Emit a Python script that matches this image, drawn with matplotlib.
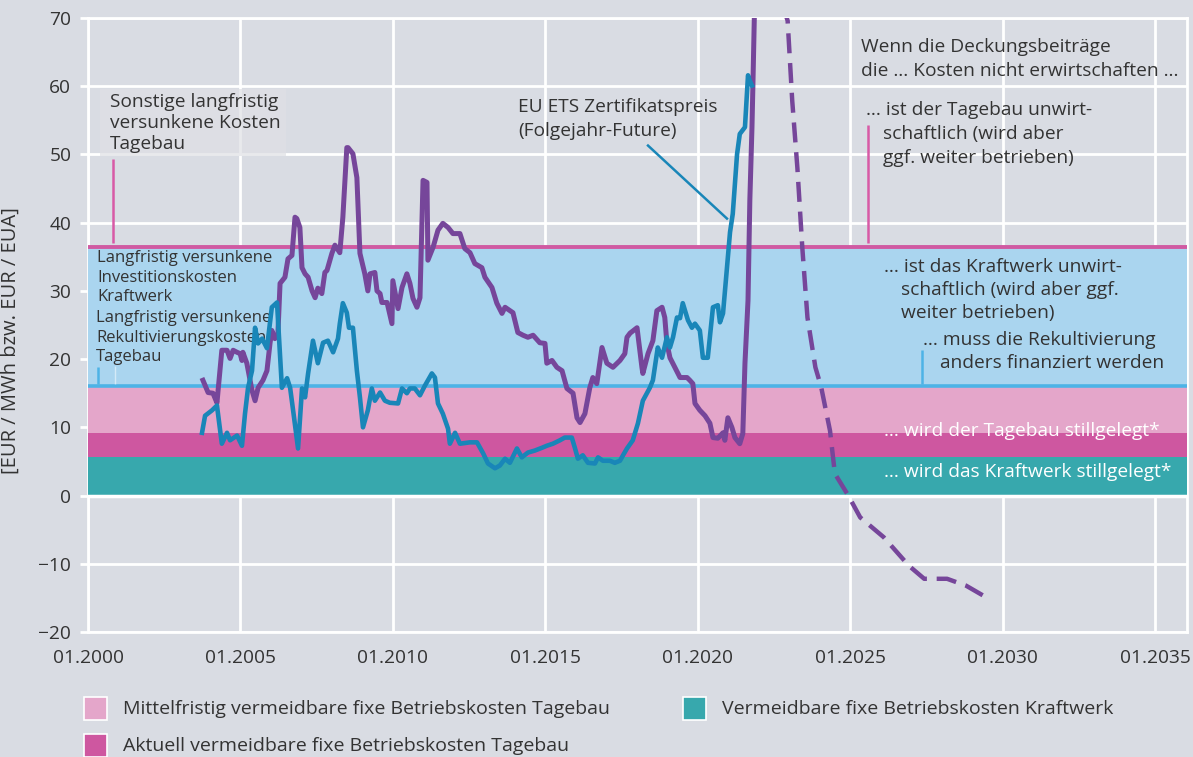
import matplotlib.pyplot as plt
from matplotlib.patches import Rectangle

plt.rcParams['font.family'] = ['Open Sans', 'DejaVu Sans']

# Deckungsbeitrag (historisch), decimal years
margin_year = [2003.77, 2003.94, 2004.10, 2004.23, 2004.39, 2004.56, 2004.66, 2004.76, 2004.89, 2004.99,
               2005.05, 2005.08, 2005.21, 2005.38, 2005.48, 2005.58, 2005.74, 2005.87, 2005.97, 2006.03,
               2006.13, 2006.23, 2006.30, 2006.46, 2006.56, 2006.69, 2006.79, 2006.85, 2006.95, 2007.02,
               2007.12, 2007.22, 2007.35, 2007.45, 2007.54, 2007.67, 2007.77, 2007.84, 2008.00, 2008.10,
               2008.26, 2008.36, 2008.49, 2008.53, 2008.69, 2008.82, 2008.92, 2009.08, 2009.18, 2009.25,
               2009.41, 2009.48, 2009.58, 2009.64, 2009.81, 2009.97, 2010.00, 2010.17, 2010.30, 2010.46,
               2010.56, 2010.66, 2010.79, 2010.89, 2010.99, 2011.12, 2011.15, 2011.32, 2011.48, 2011.64,
               2011.81, 2011.97, 2012.20, 2012.36, 2012.53, 2012.69, 2012.92, 2013.02, 2013.25, 2013.41,
               2013.58, 2013.68, 2013.94, 2014.10, 2014.27, 2014.43, 2014.60, 2014.82, 2014.99, 2015.05,
               2015.22, 2015.38, 2015.55, 2015.71, 2015.91, 2016.04, 2016.14, 2016.30, 2016.46, 2016.56,
               2016.69, 2016.86, 2017.02, 2017.22, 2017.45, 2017.61, 2017.68, 2017.78, 2018.01, 2018.17,
               2018.20, 2018.37, 2018.53, 2018.66, 2018.83, 2018.92, 2018.99, 2019.09, 2019.25, 2019.42,
               2019.65, 2019.74, 2019.84, 2019.91, 2020.07, 2020.24, 2020.40, 2020.50, 2020.66, 2020.83,
               2020.89, 2020.99, 2021.12, 2021.22, 2021.38, 2021.48, 2021.55, 2021.65, 2021.71, 2021.78,
               2021.81, 2021.88]
margin_val = [16.9, 15.1, 15.0, 13.6, 21.3, 21.3, 20.1, 21.3, 21.0, 20.8,
              19.8, 21.0, 19.4, 15.4, 13.9, 15.8, 16.9, 18.3, 22.3, 24.2,
              23.0, 23.8, 31.1, 32.0, 34.7, 35.2, 40.8, 40.6, 39.3, 33.4,
              32.5, 32.0, 30.0, 29.0, 30.4, 29.6, 32.7, 33.0, 35.5, 36.7,
              35.6, 40.8, 51.0, 51.0, 50.1, 46.6, 35.5, 32.5, 30.0, 32.5,
              32.7, 30.0, 29.6, 28.3, 28.3, 25.2, 31.5, 27.4, 30.5, 32.5,
              31.1, 28.9, 27.6, 29.0, 46.2, 45.9, 34.5, 36.4, 38.9, 39.9,
              39.3, 38.4, 38.4, 36.2, 35.6, 34.0, 33.4, 32.0, 30.5, 28.2,
              26.7, 27.6, 26.8, 23.9, 23.5, 23.2, 23.5, 22.4, 22.3, 19.4,
              19.8, 18.8, 18.3, 15.7, 15.0, 11.4, 10.7, 12.0, 15.8, 17.3,
              16.4, 21.7, 19.4, 18.8, 19.8, 20.8, 23.2, 23.8, 24.6, 18.8,
              17.9, 20.8, 22.7, 27.1, 27.6, 26.1, 22.3, 20.2, 18.8, 17.3,
              17.3, 16.9, 16.4, 13.5, 12.5, 11.7, 10.6, 8.5, 8.4, 9.2,
              8.1, 11.4, 10.0, 8.5, 7.6, 9.1, 19.4, 28.6, 43.3, 54.0,
              60.0, 75.0]

# EU ETS Zertifikatspreis (Folgejahr-Future)
eua_year = [2003.74, 2003.84, 2004.07, 2004.23, 2004.39, 2004.56, 2004.66, 2004.89, 2005.05, 2005.15,
            2005.25, 2005.38, 2005.48, 2005.58, 2005.71, 2005.87, 2006.03, 2006.20, 2006.36, 2006.53,
            2006.63, 2006.76, 2006.89, 2007.02, 2007.12, 2007.22, 2007.38, 2007.54, 2007.71, 2007.87,
            2008.04, 2008.20, 2008.26, 2008.36, 2008.49, 2008.56, 2008.69, 2008.82, 2008.92, 2009.02,
            2009.18, 2009.31, 2009.41, 2009.58, 2009.74, 2009.90, 2010.17, 2010.30, 2010.46, 2010.56,
            2010.72, 2010.89, 2011.05, 2011.28, 2011.38, 2011.48, 2011.64, 2011.81, 2011.87, 2012.04,
            2012.20, 2012.53, 2012.76, 2012.96, 2013.12, 2013.35, 2013.51, 2013.68, 2013.84, 2014.07,
            2014.23, 2014.43, 2014.66, 2014.89, 2015.05, 2015.25, 2015.48, 2015.64, 2015.87, 2015.97,
            2016.07, 2016.23, 2016.40, 2016.63, 2016.73, 2016.89, 2017.12, 2017.28, 2017.45, 2017.55,
            2017.68, 2017.87, 2018.04, 2018.20, 2018.43, 2018.53, 2018.66, 2018.69, 2018.83, 2018.99,
            2019.09, 2019.19, 2019.32, 2019.42, 2019.51, 2019.68, 2019.81, 2019.91, 2020.07, 2020.17,
            2020.33, 2020.50, 2020.66, 2020.73, 2020.83, 2020.96, 2021.06, 2021.15, 2021.29, 2021.38,
            2021.55, 2021.65, 2021.71, 2021.78]
eua_val = [9.2, 11.7, 12.5, 13.2, 7.6, 9.2, 8.1, 8.8, 7.3, 12.0,
           15.8, 18.3, 24.6, 22.3, 23.0, 21.6, 27.6, 28.3, 15.8, 17.2,
           15.8, 11.4, 6.9, 15.7, 14.4, 17.9, 22.7, 19.4, 22.4, 22.7,
           21.0, 23.0, 25.2, 28.2, 26.8, 24.6, 24.6, 18.3, 14.4, 10.0,
           12.5, 15.7, 13.9, 15.1, 13.9, 13.6, 13.5, 15.7, 15.0, 15.7,
           15.7, 14.7, 16.1, 17.9, 17.3, 13.5, 12.0, 9.8, 7.6, 9.2,
           7.6, 7.8, 7.8, 6.2, 4.7, 4.0, 4.4, 5.4, 4.8, 6.9,
           5.6, 6.3, 6.6, 7.0, 7.3, 7.6, 8.1, 8.5, 8.5, 7.0,
           5.4, 5.9, 4.8, 4.7, 5.6, 5.1, 5.1, 4.8, 5.1, 5.9,
           6.9, 8.1, 10.6, 13.9, 15.8, 16.9, 20.8, 21.7, 20.2, 23.2,
           21.7, 23.2, 26.1, 26.0, 28.2, 25.7, 24.6, 25.2, 24.2, 20.2,
           20.2, 27.6, 27.9, 25.4, 26.7, 33.4, 38.6, 41.3, 50.0, 53.0,
           54.0, 61.6, 60.8, 60.1]

# Deckungsbeitrag (Terminmarkt, gestrichelt)
proj_year = [2022.78, 2022.95, 2023.10, 2023.27, 2023.43, 2023.60, 2023.86, 2024.05, 2024.34, 2024.50,
             2024.94, 2025.33, 2026.10, 2026.93, 2027.43, 2028.18, 2028.80, 2029.38]
proj_val = [72.0, 69.6, 57.9, 48.0, 36.4, 26.1, 18.8, 15.9, 9.5, 3.2,
            0.0, -3.2, -6.1, -10.3, -12.2, -12.2, -13.2, -14.7]

# cost bands
band_lo = [0.0, 5.6, 9.2, 16.1]
band_hi = [5.6, 9.2, 16.1, 36.5]
band_colors = ['#37a8ad', '#ce57a0', '#e4a6ca', '#aad5ef']
legend_labels = ['Mittelfristig vermeidbare fixe Betriebskosten Tagebau',
                 'Vermeidbare fixe Betriebskosten Kraftwerk',
                 'Aktuell vermeidbare fixe Betriebskosten Tagebau']
legend_colors = ['#e4a6ca', '#37a8ad', '#ce57a0']

year_ticks = list(range(2000, 2036, 5))
y_ticks = list(range(-20, 71, 10))

bg = '#d9dce3'
txt = '#333333'
purple = '#76469a'
blue = '#1986b8'

fig = plt.figure(figsize=(11.93, 7.57), dpi=100, facecolor=bg)
ax = fig.add_axes([88 / 1193, 1 - 632 / 757, 1099 / 1193, 614 / 757])
ax.set_facecolor(bg)

ax.set_xlim(2000, 2036.05)
ax.set_ylim(-20, 70)
ax.set_xticks(year_ticks)
ax.set_xticklabels(['01.%d' % y for y in year_ticks])
ax.set_yticks(y_ticks)
ax.grid(True, color='white', lw=2, zorder=0)
ax.set_axisbelow(True)
for s in ax.spines.values():
    s.set_color('white')
    s.set_linewidth(2)
    s.set_zorder(0.6)
ax.tick_params(axis='y', colors='white', length=6, width=2, labelcolor=txt, labelsize=13.8, pad=6)
ax.tick_params(axis='x', length=0, labelcolor=txt, labelsize=13.8, pad=12)
ax.set_ylabel('[EUR / MWh bzw. EUR / EUA]', color=txt, fontsize=14.5)
ax.yaxis.set_label_coords(-0.061, 0.474)

for lo, hi, c in zip(band_lo, band_hi, band_colors):
    ax.axhspan(lo, hi, color=c, lw=0, zorder=1)
ax.axhline(16.1, color='#4db3e6', lw=2.6, zorder=2)
ax.axhline(36.5, color='#d05aa2', lw=2.8, zorder=2)
ax.axhline(0, color='white', lw=2.5, zorder=2)

ax.plot(margin_year, margin_val, color=purple, lw=3.6, zorder=4, solid_joinstyle='round')
ax.plot(eua_year, eua_val, color=blue, lw=3.3, zorder=5, solid_joinstyle='round')
ax.plot(proj_year, proj_val, color=purple, lw=3.2, dashes=(4.5, 2.2), zorder=4)

# annotations
fs = 13.8


def lines(x, y, rows, step, indent=0.0, size=fs, color=txt, z=6):
    # first row at x, following rows shifted by indent; y is the centre of the first row
    for i, row in enumerate(rows):
        ax.text(x + (indent if i else 0), y - i * step, row, fontsize=size, color=color,
                va='center', zorder=z)


ax.add_patch(Rectangle((2000.4, 49.8), 6.1, 9.8, fc='#dfe0e5', ec='none', alpha=0.7, zorder=0.8))
lines(2000.72, 57.7, ['Sonstige langfristig', 'versunkene Kosten', 'Tagebau'], 3.08)
ax.vlines(2000.82, 37.0, 49.4, color='#d85aa6', lw=1.8, zorder=6)

lines(2000.30, 34.8, ['Langfristig versunkene', 'Investitionskosten', 'Kraftwerk'], 2.86, size=12)
lines(2000.26, 26.0, ['Langfristig versunkene', 'Rekultivierungskosten', 'Tagebau'], 2.86, size=12, z=3)
ax.vlines(2000.33, 16.3, 18.9, color='#4db3e6', lw=1.8, zorder=6)
ax.vlines(2000.89, 16.3, 19.0, color='white', lw=1, alpha=0.5, zorder=6)

lines(2014.1, 56.9, ['EU ETS Zertifikatspreis', '(Folgejahr-Future)'], 3.52)
ax.plot([2018.37, 2020.96], [51.3, 40.6], color=blue, lw=1.8, zorder=6)

lines(2025.35, 65.75, ['Wenn die Deckungsbeiträge', 'die … Kosten nicht erwirtschaften …'], 3.52)
lines(2025.52, 56.5, ['… ist der Tagebau unwirt-', 'schaftlich (wird aber', 'ggf. weiter betrieben)'],
      3.52, indent=0.55)
ax.vlines(2025.58, 37.0, 54.3, color='#d85aa6', lw=1.8, zorder=6)
lines(2026.10, 33.5, ['… ist das Kraftwerk unwirt-', 'schaftlich (wird aber ggf.', 'weiter betrieben)'],
      3.38, indent=0.56)
lines(2027.40, 22.75, ['… muss die Rekultivierung', 'anders finanziert werden'], 3.38, indent=0.56)
ax.vlines(2027.37, 16.3, 21.3, color='#4db3e6', lw=1.8, zorder=6)

lines(2026.1, 9.4, ['… wird der Tagebau stillgelegt*'], 0, color='white')
lines(2026.1, 3.4, ['… wird das Kraftwerk stillgelegt*'], 0, color='white')

# legend below the chart
W, H = 1193, 757
legend_pos = [(84, 697), (683, 697), (84, 734)]
for (px, py), lab, c in zip(legend_pos, legend_labels, legend_colors):
    fig.patches.append(Rectangle((px / W, 1 - (py + 23) / H), 23 / W, 23 / H, transform=fig.transFigure,
                                 fc=c, ec='white', lw=1.2))
    fig.text((px + 39) / W, 1 - (py + 12) / H, lab, fontsize=14, color=txt, va='center')

fig.savefig('out.png', dpi=100, facecolor=bg)
